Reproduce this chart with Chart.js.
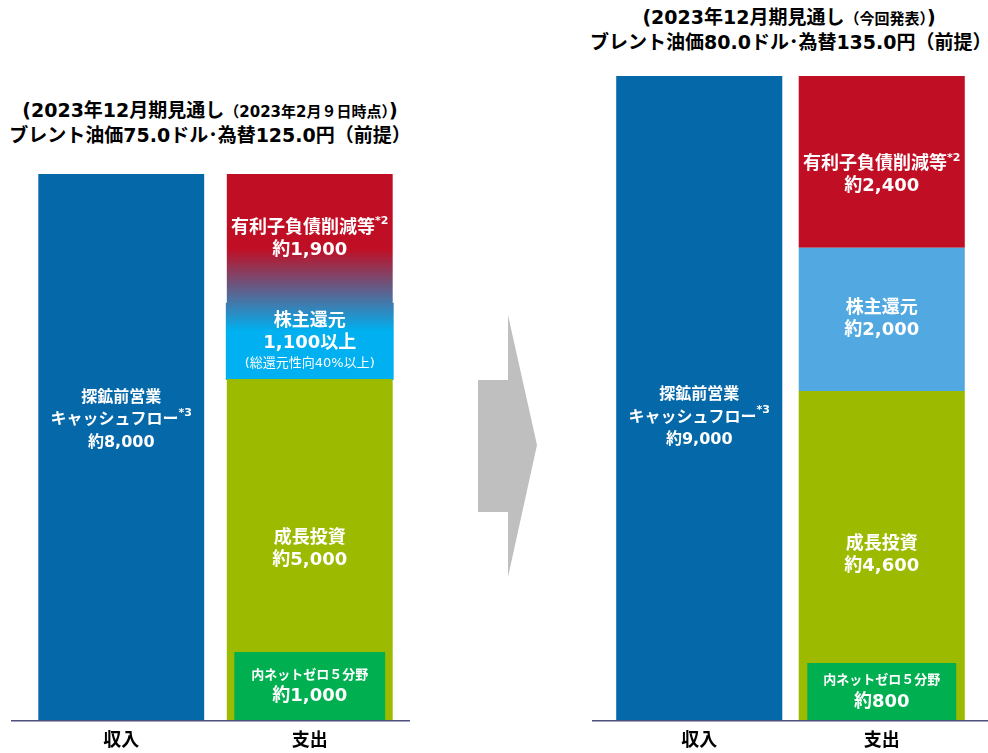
<!DOCTYPE html>
<html lang="ja">
<head>
<meta charset="utf-8">
<script src="https://cdn.jsdelivr.net/npm/chart.js@4.4.1/dist/chart.umd.min.js"></script>
<style>
  body { margin: 0; width: 988px; height: 753px; background: #fff; position: relative; overflow: hidden;
         font-family: "DejaVu Sans", "Noto Sans CJK JP", sans-serif; }
  .title { position: absolute; text-align: center; font-weight: bold; color: #000; white-space: nowrap; }
  .title div { height: 25px; line-height: 25px; }
  .title small { font-size: 15px; }
  .panel { position: absolute; }
  .base { position: absolute; height: 1px; background: #4f5078; border-bottom: 1px solid #a3a3c2; }
  svg { position: absolute; left: 0; top: 0; }
</style>
</head>
<body>

<div class="title" style="left:0; width:420px; top:98px; font-size:19px;">
  <div>(2023年12月期見通し<small>（2023年2月９日時点）</small>)</div>
  <div>ブレント油価75.0ドル･為替125.0円（前提）</div>
</div>
<div class="title" style="left:590px; width:398px; top:5px; font-size:19px;">
  <div>(2023年12月期見通し<small>（今回発表）</small>)</div>
  <div>ブレント油価80.0ドル･為替135.0円（前提）</div>
</div>

<svg width="988" height="753">
  <polygon points="478,380 508,380 508,315 537,445 508,577 508,512 478,512" fill="#bfbfbf"/>
</svg>

<canvas id="leftChart" class="panel" width="377" height="588" style="left:27px; top:174px;"></canvas>
<canvas id="rightChart" class="panel" width="365" height="686" style="left:608px; top:76px;"></canvas>

<div class="base" style="left:11px; top:720px; width:399px;"></div>
<div class="base" style="left:592px; top:720px; width:396px;"></div>

<script>
// left panel: outlook as of 9 Feb 2023 (100M yen)
const leftCategories = ['収入', '支出'];
const leftIncome = [8000, null];
const leftGrowth = [null, 5000];
const leftReturns = [null, 1100];
const leftDebt = [null, 1900];
const leftNetZero = [null, 1000];

// right panel: current outlook
const rightCategories = ['収入', '支出'];
const rightIncome = [9000, null];
const rightGrowth = [null, 4600];
const rightReturns = [null, 2000];
const rightDebt = [null, 2400];
const rightNetZero = [null, 800];

// text inside the bars: each line is a list of [text, style]
const leftIncomeText = [[['探鉱前営業', 'mid']], [['キャッシュフロー', 'mid'], ['*3', 'sup']], [['約8,000', 'mid']]];
const leftDebtText = [[['有利子負債削減等', 'big'], ['*2', 'sup']], [['約1,900', 'big']]];
const leftReturnsText = [[['株主還元', 'big']], [['1,100以上', 'big']], [['(総還元性向40%以上)', 'note']]];
const leftGrowthText = [[['成長投資', 'big']], [['約5,000', 'big']]];
const leftNetZeroText = [[['内ネットゼロ５分野', 'tiny']], [['約1,000', 'big']]];

const rightIncomeText = [[['探鉱前営業', 'mid']], [['キャッシュフロー', 'mid'], ['*3', 'sup']], [['約9,000', 'mid']]];
const rightDebtText = [[['有利子負債削減等', 'big'], ['*2', 'sup']], [['約2,400', 'big']]];
const rightReturnsText = [[['株主還元', 'big']], [['約2,000', 'big']]];
const rightGrowthText = [[['成長投資', 'big']], [['約4,600', 'big']]];
const rightNetZeroText = [[['内ネットゼロ５分野', 'tiny']], [['約800', 'big']]];

const family = '"DejaVu Sans", "Noto Sans CJK JP", sans-serif';
const textStyles = {
  big:  { font: `bold 18px ${family}`, lh: 22 },
  mid:  { font: `bold 16px ${family}`, lh: 22.5 },
  note: { font: `13px ${family}`, lh: 19 },
  tiny: { font: `bold 13px ${family}`, lh: 21 },
  sup:  { font: `bold 11px ${family}`, lh: 0, rise: 7 }
};

const blue = '#0568a9';
const red = '#c00f25';
const cyan = '#00b0f0';
const sky = '#52a9e1';
const olive = '#9bba00';
const green = '#00b050';
const fadeFrom = 6900, fadeTo = 5700;   // left panel: red melts into cyan between these values

function leftFade(context) {
  const chart = context.chart;
  const y = chart.scales.y;
  if (!chart.chartArea || !y) return red;
  const g = chart.ctx.createLinearGradient(0, y.getPixelForValue(fadeFrom), 0, y.getPixelForValue(fadeTo));
  g.addColorStop(0, red);
  g.addColorStop(1, cyan);
  return g;
}

const segmentText = {
  id: 'segmentText',
  afterDatasetsDraw(chart) {
    const c = chart.ctx;
    c.save();
    c.fillStyle = '#fff';
    c.textBaseline = 'middle';
    c.textAlign = 'left';
    chart.data.datasets.forEach((ds, i) => {
      if (!ds.textLines) return;
      chart.getDatasetMeta(i).data.forEach((bar, j) => {
        if (ds.data[j] == null) return;
        const heights = ds.textLines.map(line => Math.max(...line.map(r => textStyles[r[1]].lh)));
        const anchor = ds.textAnchor ?? 0.5;   // share of the bar height, from the top
        let y = bar.y + (bar.base - bar.y) * anchor - heights.reduce((a, b) => a + b, 0) / 2;
        ds.textLines.forEach((line, k) => {
          const mid = y + heights[k] / 2;
          let w = 0;
          line.forEach(([t, s]) => { c.font = textStyles[s].font; w += c.measureText(t).width; });
          let x = bar.x - w / 2;
          line.forEach(([t, s]) => {
            c.font = textStyles[s].font;
            c.fillText(t, x, mid - (textStyles[s].rise || 0));
            x += c.measureText(t).width;
          });
          y += heights[k];
        });
      });
    });
    c.restore();
  }
};

function makeChart(id, labels, datasets, max) {
  return new Chart(document.getElementById(id), {
    type: 'bar',
    data: { labels, datasets },
    options: {
      responsive: false,
      animation: false,
      layout: { padding: 0 },
      plugins: { legend: { display: false }, tooltip: { enabled: false } },
      scales: {
        x: {
          stacked: true,
          grid: { display: false, drawTicks: false },
          border: { display: false },
          ticks: { color: '#000', padding: 10, maxRotation: 0, font: { family, size: 18, weight: 'bold' } }
        },
        y: { stacked: true, display: false, min: 0, max }
      }
    },
    plugins: [segmentText]
  });
}

const bar = (data, color, pct, textLines, extra) => ({
  data, backgroundColor: color, borderWidth: 0, categoryPercentage: 1, barPercentage: pct, textLines, ...extra
});

makeChart('leftChart', leftCategories, [
  bar(leftNetZero, green, 0.80, leftNetZeroText, { stack: 'inner', grouped: false }),
  bar(leftIncome, blue, 0.88, leftIncomeText, { textAnchor: 0.45 }),
  bar(leftGrowth, olive, 0.88, leftGrowthText),
  bar(leftReturns, leftFade, 0.88, leftReturnsText, { inflateAmount: 1 }),
  bar(leftDebt, leftFade, 0.88, leftDebtText)
], 8000);

makeChart('rightChart', rightCategories, [
  bar(rightNetZero, green, 0.816, rightNetZeroText, { stack: 'inner', grouped: false }),
  bar(rightIncome, blue, 0.91, rightIncomeText, { textAnchor: 0.53 }),
  bar(rightGrowth, olive, 0.91, rightGrowthText),
  bar(rightReturns, sky, 0.91, rightReturnsText),
  bar(rightDebt, red, 0.91, rightDebtText, { textAnchor: 0.58 })
], 9000);
</script>
</body>
</html>
